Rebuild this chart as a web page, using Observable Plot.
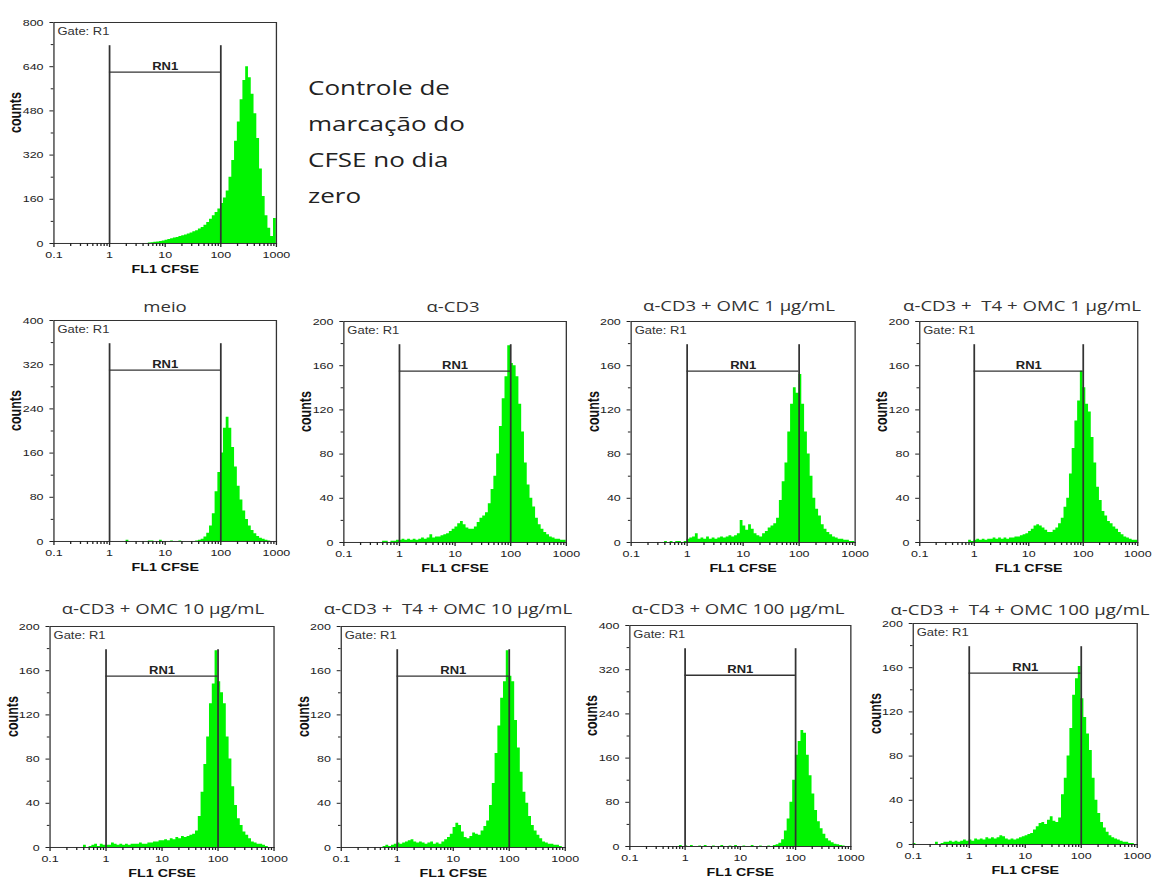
<!DOCTYPE html>
<html><head><meta charset="utf-8">
<script src="https://cdn.jsdelivr.net/npm/d3@7"></script>
<script src="https://cdn.jsdelivr.net/npm/@observablehq/plot@0.6"></script>
<style>
body{margin:0;background:#fff;}
#page{position:relative;width:1152px;height:879px;overflow:hidden;background:#fff;}
#root{position:absolute;left:0;top:0;width:887px;height:879px;transform:scaleX(1.3);transform-origin:0 0;}
.panel{position:absolute;}
.panel svg{overflow:visible;}
.title{position:absolute;font-family:"Open Sans",sans-serif;font-size:14.3px;color:#333;white-space:pre;transform:translate(-50%,-50%);}
.note{position:absolute;font-family:"Open Sans",sans-serif;font-size:20px;line-height:36px;color:#222;white-space:nowrap;}
</style></head><body><div id="page"><div id="root"></div></div>
<script>
// ---- data (counts per channel, 20 channels per decade from 0.1 to 1000) ----
const binStartLog = -1, binWidthLog = 0.05;
const titles = [null,"meio","α-CD3","α-CD3 + OMC 1 μg/mL","α-CD3 +  T4 + OMC 1 μg/mL",
  "α-CD3 + OMC 10 μg/mL","α-CD3 +  T4 + OMC 10 μg/mL","α-CD3 + OMC 100 μg/mL","α-CD3 +  T4 + OMC 100 μg/mL"];
const noteLines = ["Controle de","marcação do","CFSE no dia","zero"];
const yMax = [800,400,200,200,200,200,200,400,200];
const yTicks800 = [0,160,320,480,640,800];
const yTicks400 = [0,80,160,240,320,400];
const yTicks200 = [0,40,80,120,160,200];
const xTicks = [0.1,1,10,100,1000];
const gateLo = 1, gateHi = 100;
const gateTop = [716,358,179,179,179,179,179,358,179];
const gateBar = [620,310,155,155,155,155,155,310,155];

const cCtrl = [0,0,0,0,0,0,0,0,0,0,0,0,0,0,0,0,0,0,0,0,
  0,0,0,0,0,0,0,0,0,0,0,0,0,0,2,3,4,5,7,9,
  12,14,17,20,22,25,28,31,34,38,42,46,52,58,66,76,88,100,112,125,
  145,165,190,240,300,370,440,520,590,640,600,540,470,380,270,170,100,55,25,90];
const cMeio = [0,0,0,0,0,0,0,0,0,0,0,0,0,0,0,0,0,0,0,0,
  0,0,0,0,0,0,2,0,0,0,0,0,0,0,1,1,0,0,2,0,
  0,0,1,0,0,1,0,0,0,0,0,1,2,4,8,15,28,50,90,125,
  160,205,225,205,170,135,100,75,55,40,28,20,14,9,6,4,2,1,0,0];
const cCD3 = [0,0,0,0,0,0,0,0,0,0,0,0,0,0,1,1,0,1,1,2,
  2,3,2,3,2,3,2,3,4,3,4,7,4,5,5,6,7,8,10,12,
  14,17,19,16,13,12,12,14,18,22,24,27,35,48,60,80,105,130,150,178,
  162,160,150,125,100,72,52,40,32,22,16,12,9,7,5,4,3,3,2,2];
const cOMC1 = [0,0,0,0,0,0,0,0,0,0,0,0,1,0,1,0,1,1,0,1,
  3,4,5,8,3,4,3,5,3,4,3,4,5,4,5,6,5,6,8,20,
  15,11,16,12,8,6,5,8,10,13,15,17,22,38,55,72,100,125,140,135,
  152,125,100,80,60,40,30,24,16,12,9,7,5,4,3,3,2,2,1,1];
const cT4OMC1 = [0,0,0,0,0,0,0,0,0,0,0,0,0,0,0,0,0,0,2,1,
  2,3,2,3,2,3,3,4,3,4,3,4,3,4,4,5,5,6,7,8,
  10,12,15,16,15,13,11,9,9,11,13,17,22,32,40,62,85,110,128,155,
  140,125,118,95,72,50,38,28,24,19,17,14,12,9,7,5,4,3,2,2];
const cOMC10 = [0,0,0,0,0,0,0,0,0,0,0,0,2,0,1,2,3,1,3,2,
  2,2,4,3,2,3,2,3,2,3,3,3,4,3,3,4,4,5,5,6,
  6,7,6,8,7,9,8,10,9,10,11,12,15,28,50,75,100,130,148,178,
  150,140,130,100,80,55,38,26,20,14,11,8,5,4,3,3,2,1,0,0];
const cT4OMC10 = [0,0,0,0,0,0,0,0,0,0,0,0,0,0,0,1,2,1,2,3,
  4,3,4,5,6,7,5,4,5,4,3,4,5,3,4,3,5,7,9,12,
  18,22,20,14,9,8,10,13,12,11,15,19,24,38,58,85,110,135,150,178,
  155,150,115,90,68,50,40,28,20,15,11,8,5,4,3,3,2,2,1,0];
const cOMC100 = [0,0,0,0,0,0,0,0,0,0,0,0,0,0,0,0,0,0,2,0,
  1,0,2,0,0,1,0,2,0,0,1,0,0,2,0,0,1,0,2,0,
  0,1,0,0,2,0,0,1,0,0,1,0,2,3,6,12,28,50,80,120,
  165,190,210,205,165,128,95,65,45,32,22,14,10,7,4,3,2,1,0,0];
const cT4OMC100 = [1,0,0,0,0,0,0,0,2,0,1,2,2,3,2,3,2,3,4,3,
  4,3,5,4,5,4,6,5,6,5,6,8,7,5,4,5,4,5,6,7,
  8,9,10,13,16,19,20,18,22,25,21,20,24,45,60,80,105,135,150,161,
  132,115,100,85,60,40,28,20,15,11,8,6,5,4,3,2,2,1,1,0];

// ---- layout (page pixel frames: left, top, right, bottom) ----
const S = 1.3;
const frames = [[53.5,22,276,243],[53.5,320,276,541],[343.5,321,566,542],[630,321,854,542],[919,321,1137,542],
  [50,626,274,847],[340,626,564,847],[629,625,850,846],[913,623,1137,844]];
const titlePos = [null,[165,306],[453,306],[739,305],[1022,305],[163,608],[448,608],[738,608],[1020,609]];

const series = [cCtrl,cMeio,cCD3,cOMC1,cT4OMC1,cOMC10,cT4OMC10,cOMC100,cT4OMC100];
const root = document.getElementById("root");
const xMinor = [];
for (const dec of [0.1,1,10,100]) for (let k = 2; k <= 9; k++) xMinor.push(+(k*dec).toPrecision(3));
const GREEN = "#00f400", GATE = "#333";

function panel(i) {
  const [L,T,R,B] = frames[i];
  const ML = 44, MR = 6, MT = 6, MB = 36;
  const W = (R - L) / S, H = B - T;
  const counts = series[i];
  const pts = counts.map((c, j) => ({x: Math.pow(10, binStartLog + binWidthLog*j), c}));
  pts.push({x: 1000, c: counts[counts.length - 1]});
  const ym = yMax[i];
  const yt = ym === 800 ? yTicks800 : ym === 400 ? yTicks400 : yTicks200;
  const yMinor = yt.slice(1).map((v, k) => (v + yt[k]) / 2);
  const svg = Plot.plot({
    width: W + ML + MR, height: H + MT + MB,
    marginLeft: ML, marginRight: MR, marginTop: MT, marginBottom: MB,
    x: {type: "log", domain: [0.1, 1000]},
    y: {domain: [0, ym]},
    style: {fontFamily: "'Liberation Sans', Arial, sans-serif", fontSize: "9.6px", color: "#222", background: "transparent", overflow: "visible"},
    marks: [
      Plot.areaY(pts, {x: "x", y: "c", curve: "step-after", fill: GREEN}),
      Plot.ruleX([gateLo, gateHi], {y1: 0, y2: gateTop[i], stroke: GATE, strokeWidth: 1.35}),
      Plot.ruleY([gateBar[i]], {x1: gateLo, x2: gateHi, stroke: GATE, strokeWidth: 1.3}),
      Plot.text(["RN1"], {x: 10, y: gateBar[i], dy: -2, lineAnchor: "bottom", fontWeight: "bold", fontSize: 10, fill: "#222"}),
      Plot.text(["Gate: R1"], {frameAnchor: "top-left", dx: 2.7, dy: 9, lineAnchor: "middle", textAnchor: "start", fontSize: 10, fill: "#333"}),
      Plot.frame({stroke: "#333", strokeWidth: 1}),
      Plot.axisY({ticks: yt, tickSize: 3, tickPadding: 5, label: null}),
      Plot.axisY({ticks: yMinor, tickSize: 2, tickFormat: () => "", label: null}),
      Plot.axisX({ticks: xTicks, tickSize: 4, tickPadding: 4, tickFormat: d => String(d), label: null}),
      Plot.axisX({ticks: xMinor, tickSize: 3, tickFormat: () => "", label: null}),
      Plot.text(["counts"], {frameAnchor: "left", rotate: -90, dx: -29, fontWeight: "bold", fontSize: 12.5, fill: "#111"}),
      Plot.text(["FL1 CFSE"], {frameAnchor: "bottom", dy: 26, lineAnchor: "middle", fontWeight: "bold", fontSize: 11, fill: "#111"})
    ]
  });
  const div = document.createElement("div");
  div.className = "panel";
  div.style.left = (L / S - ML) + "px";
  div.style.top = (T - MT) + "px";
  div.appendChild(svg);
  root.appendChild(div);
  if (titles[i]) {
    const t = document.createElement("div");
    t.className = "title";
    t.textContent = titles[i];
    t.style.left = (titlePos[i][0] / S) + "px";
    t.style.top = titlePos[i][1] + "px";
    root.appendChild(t);
  }
}
for (let i = 0; i < series.length; i++) panel(i);

const note = document.createElement("div");
note.className = "note";
note.style.left = (308 / S) + "px";
note.style.top = "70px";
note.innerHTML = noteLines.join("<br>");
root.appendChild(note);
</script></body></html>
